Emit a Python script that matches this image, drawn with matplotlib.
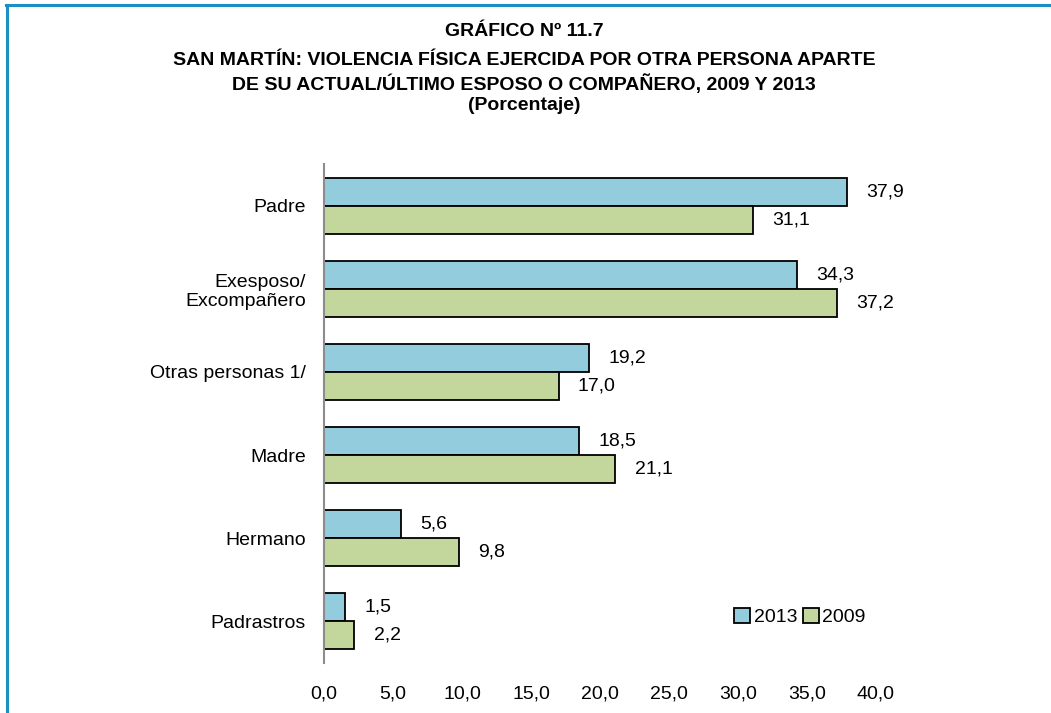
import matplotlib.pyplot as plt
import numpy as np
from matplotlib.lines import Line2D
from matplotlib.patches import Patch

plt.rcParams['font.family'] = ['Liberation Sans Narrow', 'Liberation Sans', 'DejaVu Sans']

# Data
categories = ["Padre", "Exesposo/\nExcompañero", "Otras personas 1/", "Madre", "Hermano", "Padrastros"]
values_2013 = [37.9, 34.3, 19.2, 18.5, 5.6, 1.5]
values_2009 = [31.1, 37.2, 17.0, 21.1, 9.8, 2.2]
xticks = [0, 5, 10, 15, 20, 25, 30, 35, 40]
title_lines = ["GRÁFICO Nº 11.7",
               "SAN MARTÍN: VIOLENCIA FÍSICA EJERCIDA POR OTRA PERSONA APARTE",
               "DE SU ACTUAL/ÚLTIMO ESPOSO O COMPAÑERO, 2009 Y 2013",
               "(Porcentaje)"]

c2013 = "#93CDDD"
c2009 = "#C3D69B"

fig = plt.figure(figsize=(10.51, 7.13), dpi=100)
ax = fig.add_axes([324 / 1051, 1 - 663 / 713, (876 - 324) / 1051, (663 - 164) / 713])

y = np.arange(len(categories))
h = 0.336
ax.barh(y - h / 2, values_2013, height=h, color=c2013, edgecolor="black", linewidth=1.3, label="2013")
ax.barh(y + h / 2, values_2009, height=h, color=c2009, edgecolor="black", linewidth=1.3, label="2009")

# value labels, comma decimal
for yi, v in zip(y, values_2013):
    ax.text(v + 1.4, yi - h / 2, f"{v:.1f}".replace(".", ","), va="center", ha="left", fontsize=14)
for yi, v in zip(y, values_2009):
    ax.text(v + 1.4, yi + h / 2, f"{v:.1f}".replace(".", ","), va="center", ha="left", fontsize=14)

ax.set_xlim(0, 40)
ax.set_ylim(len(categories) - 0.5, -0.5)
ax.set_yticks(y)
ax.set_yticklabels(categories, fontsize=14, ha="right")
ax.set_xticks(xticks)
ax.set_xticklabels([f"{t:.1f}".replace(".", ",") for t in xticks], fontsize=14)
ax.tick_params(axis="y", length=0, pad=13)
ax.tick_params(axis="x", length=0, pad=16)
for s in ["top", "right", "bottom"]:
    ax.spines[s].set_visible(False)
ax.spines["left"].set_color("#8c8c8c")
ax.spines["left"].set_linewidth(1.5)

handles = [Patch(facecolor=c2013, edgecolor="black", linewidth=1.3),
           Patch(facecolor=c2009, edgecolor="black", linewidth=1.3)]
ax.legend(handles, ["2013", "2009"], loc="center", bbox_to_anchor=(800 / 1051, 1 - 617 / 713),
          bbox_transform=fig.transFigure, ncol=2, frameon=False, fontsize=14,
          handlelength=0.8, handleheight=0.8, handletextpad=0.2, columnspacing=0.3)

# title, one line at a time on fixed baselines
for line, base in zip(title_lines, [36, 65, 90, 110]):
    fig.text(524 / 1051, 1 - base / 713, line, ha="center", va="baseline", fontsize=14,
             fontweight="bold")

# frame lines along the top and left edge
fig.add_artist(Line2D([6 / 1051, 1], [1 - 5 / 713, 1 - 5 / 713], color="#1a8fc4", lw=2.2,
                      transform=fig.transFigure))
fig.add_artist(Line2D([7 / 1051, 7 / 1051], [0, 1 - 5 / 713], color="#1a8fc4", lw=2.2,
                      transform=fig.transFigure))

fig.savefig("out.png", dpi=100)
